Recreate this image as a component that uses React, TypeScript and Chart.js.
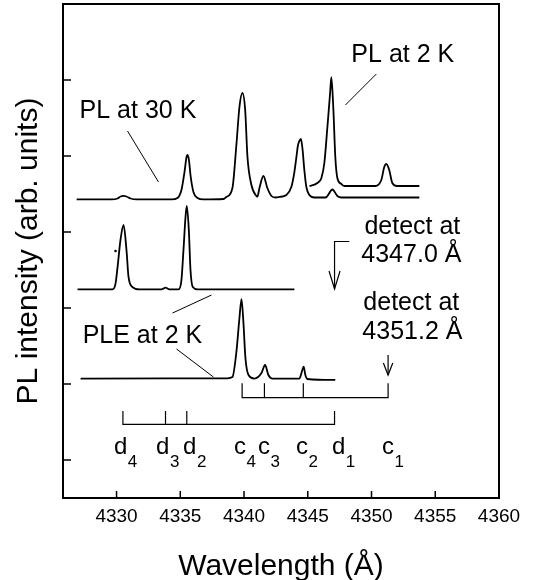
import React, { useEffect, useRef } from "react";
import { Chart, registerables } from "chart.js";

Chart.register(...registerables);

const FONT = "'Liberation Sans', Arial, Helvetica, sans-serif";

// Axis ticks
const xTickValues = [4330, 4335, 4340, 4345, 4350, 4355, 4360];
const yTickValues = [0.5, 1.5, 2.5, 3.5, 4.5, 5.5];

// PL at 30 K (wavelength Å, intensity arb.)
const pl30K: number[][] = [
  [4326.87, 3.928], [4329.61, 3.928], [4330.08, 3.941], [4330.31, 3.967], [4330.55, 3.975],
  [4330.78, 3.967], [4331.1, 3.941], [4331.57, 3.928], [4334.31, 3.928], [4334.78, 3.947],
  [4335.09, 4.053], [4335.33, 4.289], [4335.49, 4.487], [4335.56, 4.513], [4335.68, 4.447],
  [4335.8, 4.25], [4336.03, 4.026], [4336.35, 3.947], [4336.82, 3.928], [4338.39, 3.934],
  [4338.62, 3.961], [4339.09, 4.079], [4339.4, 4.645], [4339.64, 5.145], [4339.87, 5.329],
  [4340.09, 5.105], [4340.27, 4.487], [4340.58, 4.118], [4340.97, 3.974], [4341.05, 3.967],
  [4341.21, 4.079], [4341.52, 4.237], [4341.83, 4.079], [4342.15, 3.974], [4342.46, 3.954],
  [4342.77, 3.961], [4343.32, 3.987], [4343.71, 4.092], [4343.95, 4.289], [4344.11, 4.487],
  [4344.22, 4.632], [4344.34, 4.697], [4344.46, 4.724], [4344.58, 4.605], [4344.73, 4.316],
  [4344.89, 4.092], [4345.13, 3.987], [4345.52, 3.954], [4346.38, 3.954], [4346.54, 3.974],
  [4346.93, 4.059], [4347.32, 3.974], [4347.63, 3.954], [4353.75, 3.954],
];

// PL at 2 K
const pl2K: number[][] = [
  [4345.13, 4.105], [4345.75, 4.145], [4346.07, 4.211], [4346.3, 4.408], [4346.54, 4.882],
  [4346.75, 5.325], [4346.85, 5.539], [4347.01, 5.105], [4347.16, 4.487], [4347.32, 4.211],
  [4347.63, 4.132], [4347.87, 4.105], [4350.3, 4.105], [4350.77, 4.184], [4351.0, 4.355],
  [4351.16, 4.395], [4351.39, 4.316], [4351.63, 4.145], [4352.02, 4.105], [4353.75, 4.105],
];

// PLE at 2 K, detect at 4347.0 Å
const ple4347: number[][] = [
  [4326.94, 2.746], [4329.69, 2.746], [4329.92, 2.82], [4330.08, 3.039], [4330.31, 3.395],
  [4330.55, 3.592], [4330.78, 3.263], [4330.94, 2.908], [4331.25, 2.776], [4331.8, 2.746],
  [4333.53, 2.746], [4333.84, 2.767], [4334.15, 2.746], [4334.86, 2.746], [4335.09, 2.868],
  [4335.25, 3.263], [4335.41, 3.697], [4335.51, 3.842], [4335.67, 3.526], [4335.8, 3.0],
  [4335.98, 2.776], [4336.35, 2.746], [4343.95, 2.746],
];

// PLE at 2 K, detect at 4351.2 Å
const ple4351: number[][] = [
  [4327.18, 1.572], [4338.7, 1.575], [4339.09, 1.592], [4339.4, 1.921], [4339.64, 2.368],
  [4339.8, 2.618], [4339.95, 2.316], [4340.11, 1.842], [4340.35, 1.618], [4340.82, 1.572],
  [4341.37, 1.645], [4341.65, 1.75], [4341.91, 1.618], [4342.23, 1.572], [4344.34, 1.572],
  [4344.55, 1.671], [4344.68, 1.728], [4344.81, 1.618], [4344.97, 1.566], [4347.16, 1.553],
];

// Stray dot in the original figure
const strayDot: number[][] = [[4329.92, 3.25]];

// Assignment brackets
const cLinePositions = [4339.85, 4341.6, 4344.65, 4351.3];
const cBracketLevels = [1.32, 1.51]; // base, top
const dLinePositions = [4330.5, 4333.84, 4335.51, 4347.1];
const dBracketLevels = [0.97, 1.145];

// Leader lines from labels to curves
const leader30K: number[][] = [[4330.86, 4.829], [4333.29, 4.158]];
const leader2K: number[][] = [[4350.38, 5.579], [4347.95, 5.171]];
const leaderPLEa: number[][] = [[4334.39, 2.434], [4337.45, 2.671]];
const leaderPLEb: number[][] = [[4334.7, 1.961], [4337.6, 1.592]];

// Detection arrows (path, arrowhead at the last point)
const arrow4347: number[][] = [[4348.26, 3.375], [4347.1, 3.375], [4347.1, 2.75]];
const arrow4351: number[][] = [[4351.3, 1.882], [4351.3, 1.618]];

// Text labels
const textLabels = [
  { text: "PL at 30 K", x: 4327.1, y: 5.0 },
  { text: "PL at 2 K", x: 4348.42, y: 5.737 },
  { text: "detect at", x: 4349.44, y: 3.474 },
  { text: "4347.0 Å", x: 4349.2, y: 3.105 },
  { text: "detect at", x: 4349.36, y: 2.474 },
  { text: "4351.2 Å", x: 4349.28, y: 2.092 },
  { text: "PLE at 2 K", x: 4327.34, y: 2.039 },
];

const levelLetters = ["d", "d", "d", "c", "c", "c", "d", "c"];
const levelIndices = ["4", "3", "2", "4", "3", "2", "1", "1"];
const levelLabelX = [4329.8, 4333.1, 4335.22, 4339.22, 4341.1, 4344.08, 4346.9, 4350.82];
const levelLabelY = 0.579;

const toPts = (arr: number[][]) => arr.map(([x, y]) => ({ x, y }));

function bracketSets(pos: number[], levels: number[]) {
  const [base, top] = levels;
  const first = pos[0];
  const last = pos[pos.length - 1];
  const sets: any[] = [
    [[first, top], [first, base], [last, base], [last, top]],
  ];
  for (let i = 1; i < pos.length - 1; i++) {
    sets.push([[pos[i], base], [pos[i], top]]);
  }
  return sets;
}

export default function App() {
  const ref = useRef<HTMLCanvasElement>(null);

  useEffect(() => {
    const canvas = ref.current;
    if (!canvas) return;

    const curve = (arr: number[][]) => ({
      data: toPts(arr),
      borderColor: "#000",
      borderWidth: 1.8,
      pointRadius: 0,
      cubicInterpolationMode: "monotone",
      fill: false,
    });
    const seg = (arr: number[][], w: number) => ({
      data: toPts(arr),
      borderColor: "#000",
      borderWidth: w,
      pointRadius: 0,
      tension: 0,
      fill: false,
    });

    const datasets: any[] = [
      curve(pl30K),
      curve(pl2K),
      curve(ple4347),
      curve(ple4351),
      ...bracketSets(cLinePositions, cBracketLevels).map((s) => seg(s, 1.2)),
      ...bracketSets(dLinePositions, dBracketLevels).map((s) => seg(s, 1.2)),
      seg(leader30K, 1),
      seg(leader2K, 1),
      seg(leaderPLEa, 1),
      seg(leaderPLEb, 1),
      {
        data: toPts(strayDot),
        showLine: false,
        pointRadius: 1.3,
        pointBackgroundColor: "#000",
        pointBorderWidth: 0,
      },
    ];

    const decor = {
      id: "decor",
      afterDatasetsDraw(chart: any) {
        const { ctx, chartArea: a, scales } = chart;
        const xs = scales.x;
        const ys = scales.y;
        const px = (v: number) => xs.getPixelForValue(v);
        const py = (v: number) => ys.getPixelForValue(v);
        ctx.save();
        ctx.strokeStyle = "#000";
        ctx.fillStyle = "#000";

        // frame
        ctx.lineWidth = 2;
        ctx.strokeRect(a.left, a.top, a.right - a.left, a.bottom - a.top);

        // inward ticks
        ctx.lineWidth = 1.5;
        ctx.beginPath();
        xTickValues.forEach((v) => {
          const x = px(v);
          ctx.moveTo(x, a.bottom);
          ctx.lineTo(x, a.bottom - 7);
        });
        yTickValues.forEach((v) => {
          const y = py(v);
          ctx.moveTo(a.left, y);
          ctx.lineTo(a.left + 8, y);
        });
        ctx.stroke();

        // arrows
        const drawArrow = (pts: number[][], hw: number, hl: number) => {
          ctx.lineWidth = 1.2;
          ctx.beginPath();
          pts.forEach(([x, y], i) => {
            if (i === 0) ctx.moveTo(px(x), py(y));
            else ctx.lineTo(px(x), py(y));
          });
          ctx.stroke();
          const [tx, ty] = pts[pts.length - 1];
          const X = px(tx);
          const Y = py(ty);
          ctx.beginPath();
          ctx.moveTo(X - hw, Y - hl);
          ctx.lineTo(X, Y);
          ctx.lineTo(X + hw, Y - hl);
          ctx.stroke();
        };
        drawArrow(arrow4347, 5.5, 18);
        drawArrow(arrow4351, 4.7, 12);

        // text labels
        ctx.font = `25px ${FONT}`;
        ctx.textAlign = "left";
        ctx.textBaseline = "alphabetic";
        textLabels.forEach((t) => {
          ctx.fillText(t.text, px(t.x), py(t.y));
        });

        // level labels with subscripts
        levelLetters.forEach((m, i) => {
          const x = px(levelLabelX[i]);
          const y = py(levelLabelY);
          ctx.font = `24px ${FONT}`;
          ctx.fillText(m, x, y);
          const w = ctx.measureText(m).width;
          ctx.font = `17px ${FONT}`;
          ctx.fillText(levelIndices[i], x + w + 0.5, y + 13);
        });

        ctx.restore();
      },
    };

    const chart = new Chart(canvas, {
      type: "line",
      data: { datasets },
      options: {
        responsive: false,
        animation: false,
        events: [],
        layout: { padding: { top: 4, right: 36, left: 0, bottom: 0 } },
        plugins: { legend: { display: false }, tooltip: { enabled: false } },
        scales: {
          x: {
            type: "linear",
            min: 4325.8,
            max: 4360,
            grid: { display: false, drawTicks: false },
            border: { display: false },
            afterBuildTicks: (s: any) => {
              s.ticks = xTickValues.map((v) => ({ value: v }));
            },
            afterFit: (s: any) => {
              s.height = 82;
            },
            ticks: {
              padding: 7,
              color: "#000",
              autoSkip: false,
              maxRotation: 0,
              font: { size: 19, family: FONT },
              callback: (v: any) => String(v),
            },
            title: {
              display: true,
              text: "Wavelength (Å)",
              color: "#000",
              font: { size: 30, family: FONT },
              padding: { top: 0, bottom: -5 },
            },
          },
          y: {
            type: "linear",
            min: 0,
            max: 6.5,
            grid: { display: false, drawTicks: false },
            border: { display: false },
            afterBuildTicks: (s: any) => {
              s.ticks = yTickValues.map((v) => ({ value: v }));
            },
            afterFit: (s: any) => {
              s.width = 63;
            },
            ticks: { display: false },
            title: {
              display: true,
              text: "PL intensity (arb. units)",
              color: "#000",
              font: { size: 30, family: FONT },
              padding: { top: 11, bottom: 0 },
            },
          },
        },
      } as any,
      plugins: [decor],
    });

    return () => chart.destroy();
  }, []);

  return (
    <div style={{ position: "fixed", left: 0, top: 0, width: 535, height: 580, background: "#fff" }}>
      <canvas ref={ref} width={535} height={580} style={{ display: "block" }} />
    </div>
  );
}
